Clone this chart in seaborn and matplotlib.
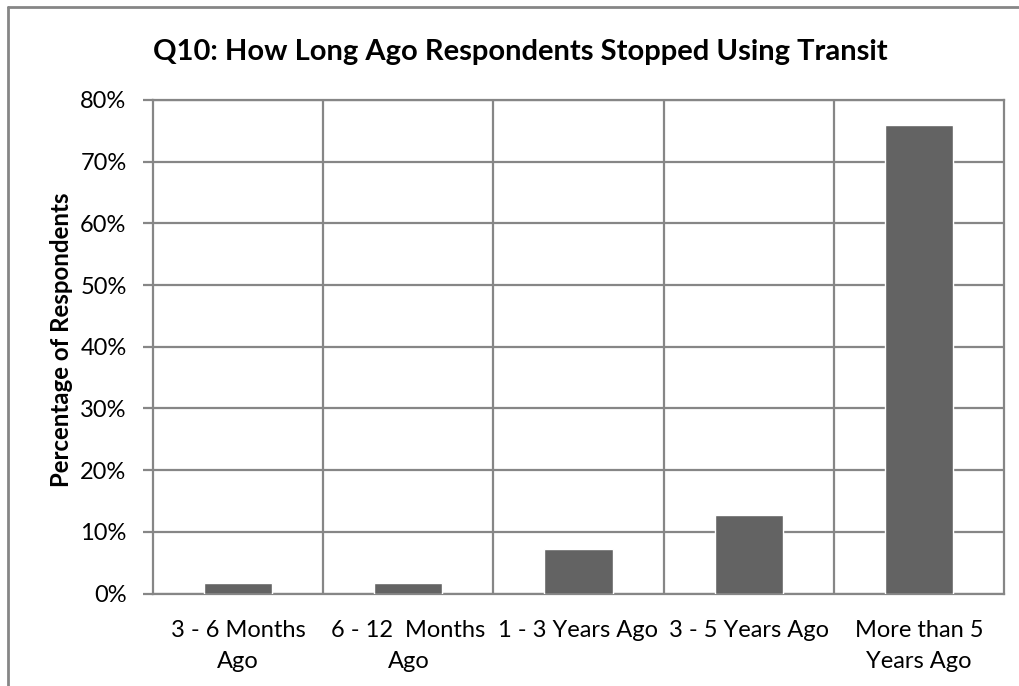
import matplotlib
matplotlib.use("Agg")
import matplotlib.pyplot as plt
from matplotlib.lines import Line2D
from matplotlib.ticker import FixedLocator, PercentFormatter
import seaborn as sns
import pandas as pd

# Survey results
categories = ["3 - 6 Months\nAgo", "6 - 12  Months\nAgo", "1 - 3 Years Ago",
              "3 - 5 Years Ago", "More than 5\nYears Ago"]
percentages = [1.7, 1.7, 7.2, 12.8, 75.9]
y_ticks = [0, 10, 20, 30, 40, 50, 60, 70, 80]

title = "Q10: How Long Ago Respondents Stopped Using Transit"
y_label = "Percentage of Respondents"

sns.set_theme(style="white")
plt.rcParams["font.family"] = ["Lato", "DejaVu Sans"]

grid_col = "#868686"
bar_col = "#636363"

df = pd.DataFrame({"category": categories, "pct": percentages})

fig = plt.figure(figsize=(10.2, 6.86), dpi=100)
ax = fig.add_axes([153 / 1020, 1 - 593.5 / 686, (1004 - 153) / 1020, (593.5 - 100) / 686])

sns.barplot(data=df, x="category", y="pct", color=bar_col, saturation=1,
            width=0.4, ax=ax, zorder=3)

ax.set_xlim(-0.5, len(categories) - 0.5)
ax.set_ylim(0, 80)
ax.set_yticks(y_ticks)
ax.yaxis.set_major_formatter(PercentFormatter(decimals=0))
ax.grid(axis="y", color=grid_col, linewidth=1.6, zorder=0)
ax.xaxis.set_minor_locator(FixedLocator([i + 0.5 for i in range(len(categories) - 1)]))
ax.grid(axis="x", which="minor", color=grid_col, linewidth=1.6, zorder=0)
ax.grid(axis="x", which="major", visible=False)

for s in ax.spines.values():
    s.set_visible(True)
    s.set_color(grid_col)
    s.set_linewidth(1.6)

ax.tick_params(axis="y", which="major", left=True, length=7, width=1.6,
               color=grid_col, labelsize=17, labelcolor="black", pad=12)
ax.tick_params(axis="x", which="both", bottom=False, labelsize=17,
               labelcolor="black", pad=13)
for lbl in ax.get_xticklabels():
    lbl.set_multialignment("center")
    lbl.set_linespacing(1.6)

ax.set_xlabel("")
ax.set_ylabel(y_label, fontsize=17.3, fontweight="bold", color="black")
ax.yaxis.set_label_coords(-0.094, 0.515)

fig.text(520 / 1020, 1 - 52 / 686, title, ha="center", va="center",
         fontsize=21, fontweight="bold", color="black")

# Outer chart frame (left and top edges)
fig.add_artist(Line2D([8 / 1020, 8 / 1020], [0, 1 - 7 / 686], transform=fig.transFigure,
                      color=grid_col, linewidth=2))
fig.add_artist(Line2D([8 / 1020, 1], [1 - 7 / 686, 1 - 7 / 686], transform=fig.transFigure,
                      color=grid_col, linewidth=2))

fig.savefig("out.png", dpi=100, facecolor="white")
